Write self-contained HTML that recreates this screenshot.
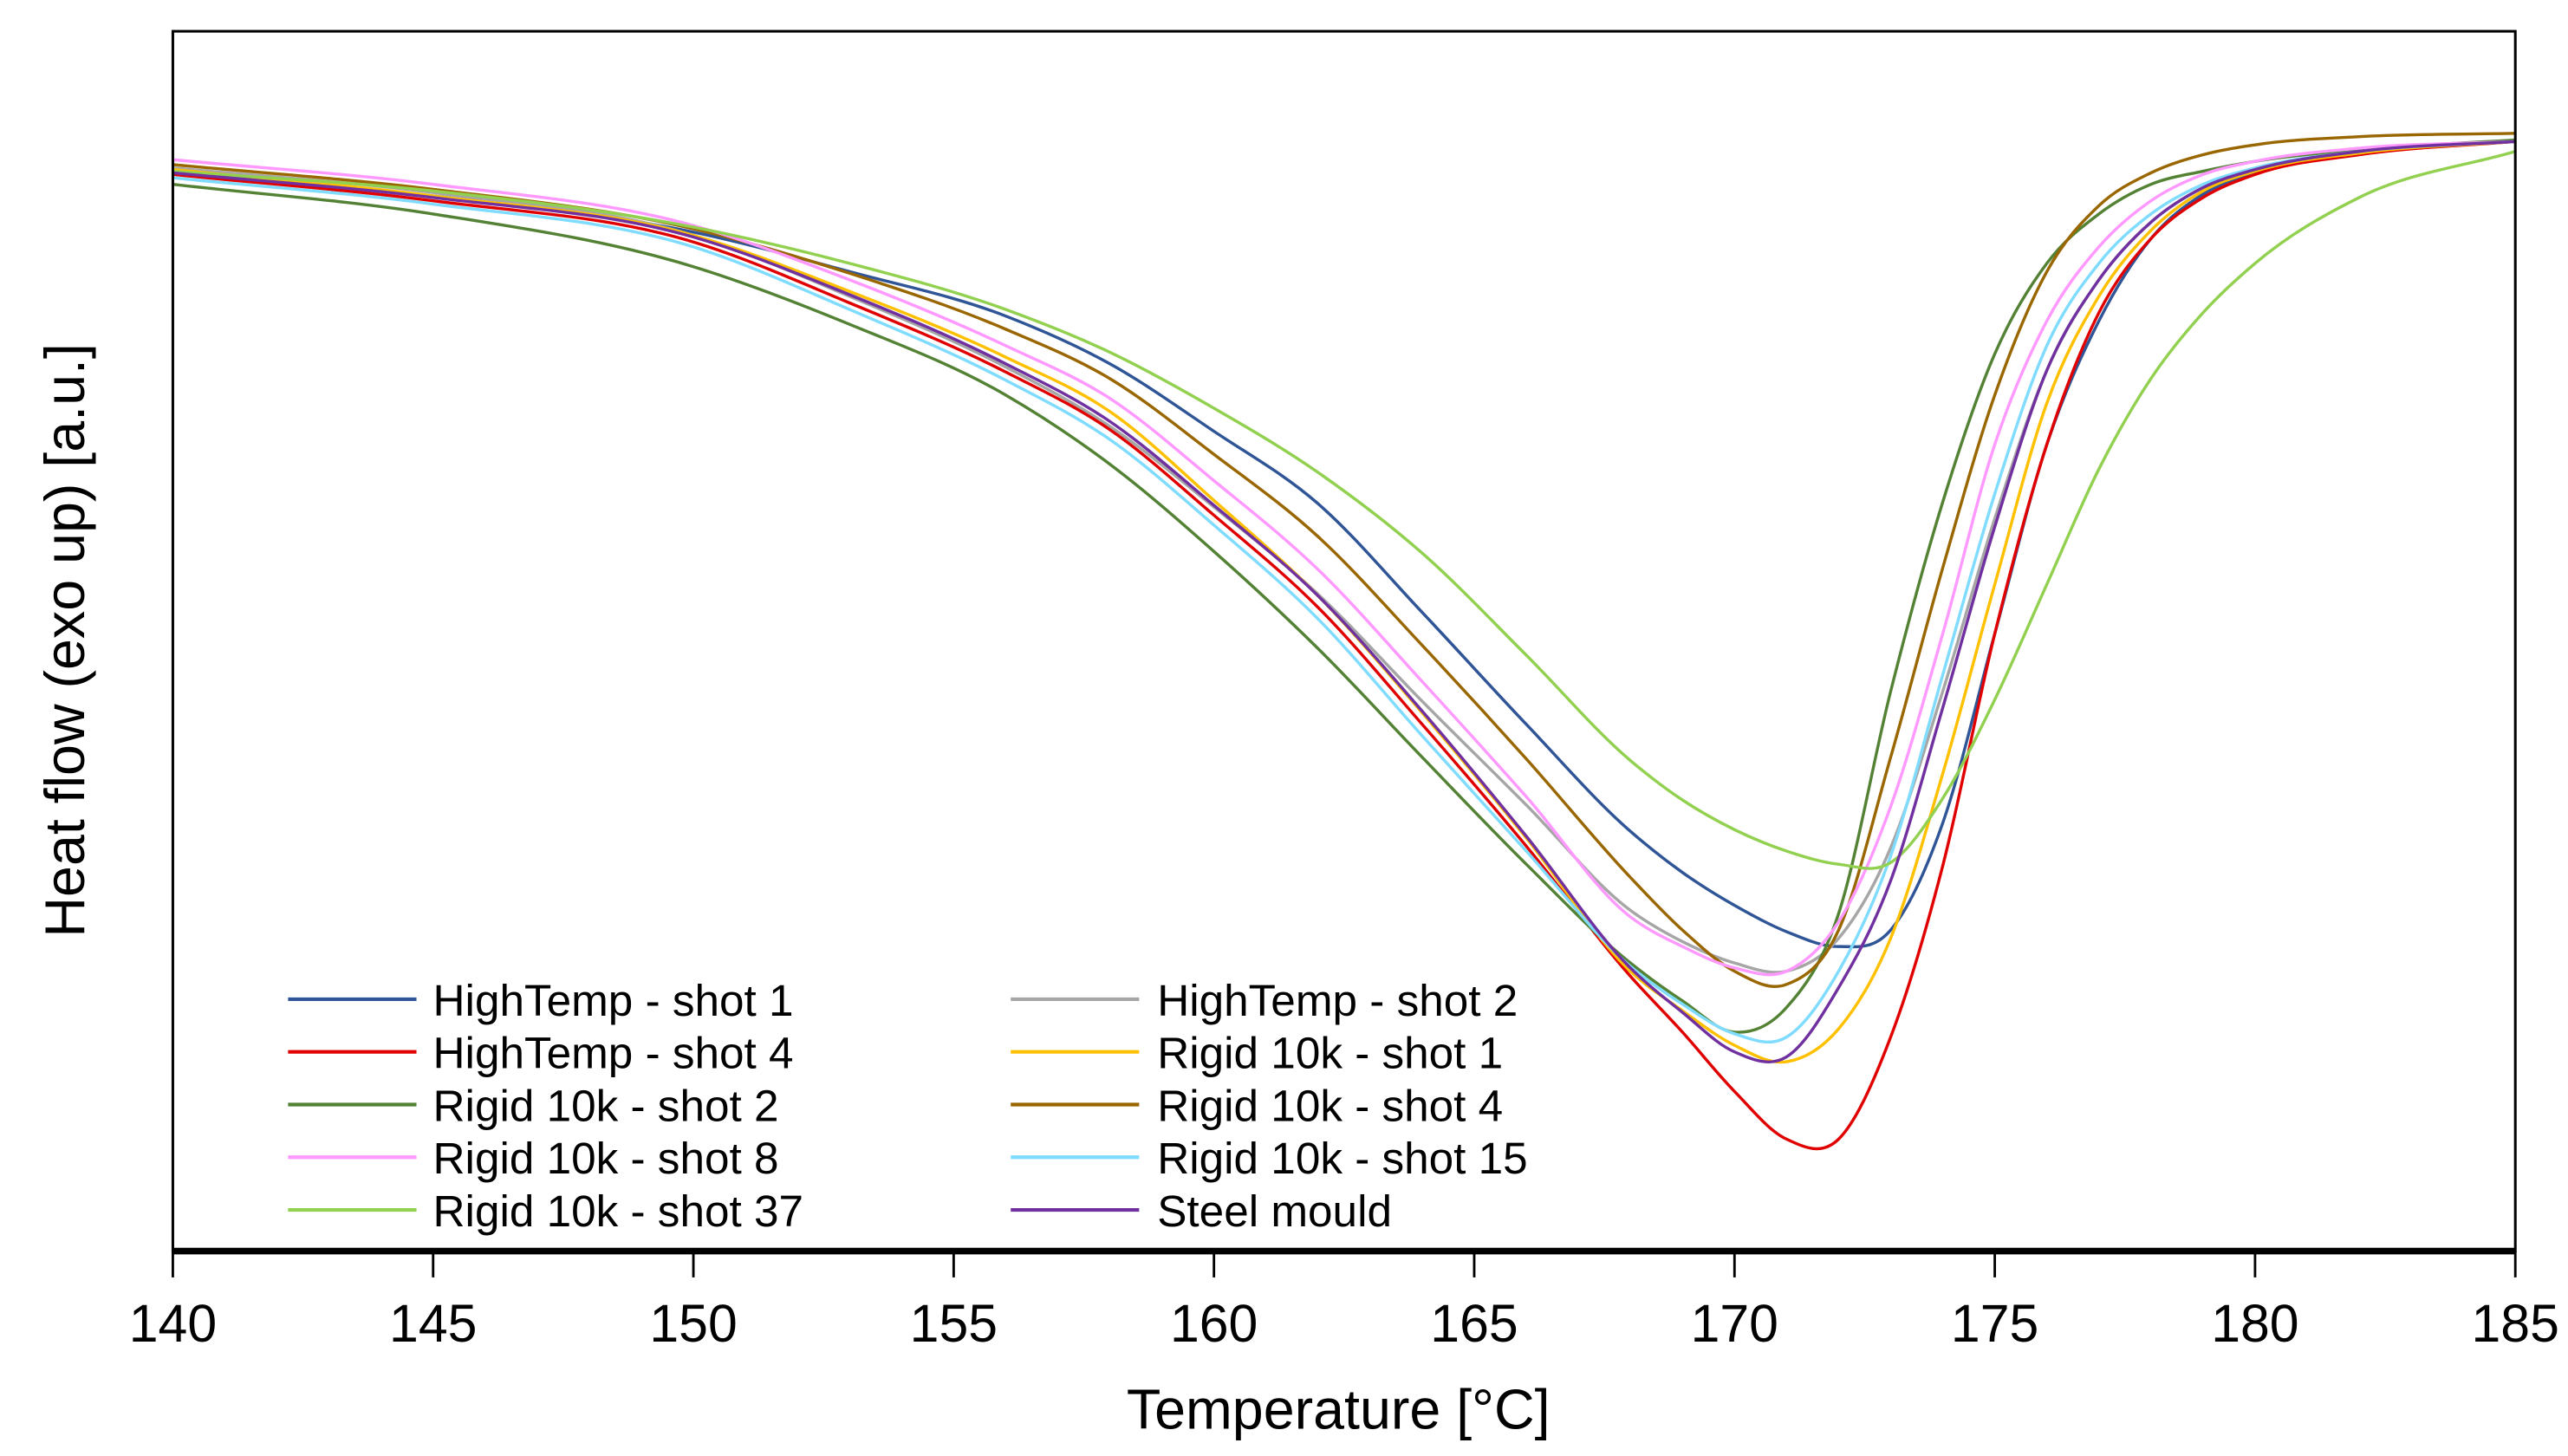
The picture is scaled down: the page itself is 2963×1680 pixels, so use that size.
<!DOCTYPE html>
<html><head><meta charset="utf-8"><style>
html,body{margin:0;padding:0;background:#fff;}
svg{display:block;}
text{font-family:"Liberation Sans",Arial,sans-serif;fill:#000;}
</style></head>
<body>
<svg id="chart" xmlns="http://www.w3.org/2000/svg" width="2963" height="1680" viewBox="0 0 1560 884.5" preserveAspectRatio="none">
<g id="plot"></g>
<g id="axes"></g>
<g id="legend"></g>
</svg>
<script>
const temps = [140,145,150,153,156,158,160,162,164,166,168,169,170,171,172,173,174,175,176,177,178,179,180,182,185];
const xTicks = [140,145,150,155,160,165,170,175,180,185];
const xTickLabels = ["140","145","150","155","160","165","170","175","180","185"];
const seriesNames = ["HighTemp - shot 1","HighTemp - shot 2","HighTemp - shot 4","Rigid 10k - shot 1","Rigid 10k - shot 2","Rigid 10k - shot 4","Rigid 10k - shot 8","Rigid 10k - shot 15","Rigid 10k - shot 37","Steel mould"];
const seriesColors = ["#2f5597","#a6a6a6","#e00000","#ffc000","#548235","#996600","#ff99ff","#7fdcff","#92d050","#7030a0"];
const hiTemp1 = [-10.4,-11.9,-14.1,-16.5,-19.2,-22.1,-26.2,-30.6,-37.2,-44.0,-50.5,-53.0,-55.0,-56.6,-57.5,-56.5,-50.0,-38.5,-27.0,-19.5,-14.5,-11.8,-10.5,-9.3,-8.6];
const hiTemp2 = [-10.2,-11.7,-14.3,-18.0,-22.3,-25.9,-30.8,-36.1,-42.6,-48.9,-55.3,-57.2,-58.5,-59.0,-57.0,-51.5,-42.0,-31.5,-22.5,-17.0,-13.5,-11.4,-10.3,-9.2,-8.6];
const hiTemp4 = [-10.6,-12.2,-14.7,-18.4,-22.6,-26.1,-31.3,-36.9,-44.0,-51.4,-59.3,-62.7,-66.3,-69.2,-69.2,-63.0,-52.6,-38.5,-27.0,-19.0,-14.5,-12.0,-10.6,-9.4,-8.6];
const rigid1 = [-10.3,-11.9,-14.3,-17.7,-21.7,-25.0,-30.4,-36.2,-43.3,-50.9,-59.0,-61.4,-63.5,-64.5,-62.5,-57.0,-47.0,-35.5,-24.5,-18.0,-14.0,-11.6,-10.4,-9.3,-8.6];
const rigid2 = [-11.2,-13.0,-16.2,-19.7,-24.0,-28.2,-33.5,-39.4,-46.0,-52.5,-58.5,-60.8,-62.7,-61.2,-55.5,-42.0,-30.5,-21.5,-16.0,-13.0,-11.2,-10.4,-9.8,-9.1,-8.5];
const rigid4 = [-10.0,-11.5,-13.9,-16.6,-20.0,-23.0,-27.6,-32.6,-39.2,-46.1,-53.3,-56.5,-59.0,-59.8,-56.5,-46.0,-34.5,-24.0,-16.5,-12.5,-10.5,-9.4,-8.8,-8.3,-8.1];
const rigid8 = [-9.7,-11.2,-13.7,-17.0,-21.0,-24.2,-29.2,-34.6,-41.4,-48.4,-55.7,-57.5,-58.8,-59.0,-56.0,-49.0,-38.5,-27.0,-19.5,-15.0,-12.2,-10.6,-9.8,-9.0,-8.6];
const rigid15 = [-10.8,-12.4,-15.0,-18.8,-23.1,-26.7,-31.9,-37.6,-44.7,-51.7,-58.7,-61.0,-62.8,-63.0,-59.0,-52.0,-41.0,-30.0,-21.0,-16.0,-13.0,-11.2,-10.2,-9.2,-8.6];
const rigid37 = [-10.4,-11.6,-13.8,-16.0,-18.8,-21.4,-24.8,-28.7,-33.6,-39.8,-46.2,-48.6,-50.4,-51.7,-52.5,-52.4,-48.5,-42.5,-35.5,-28.5,-23.0,-19.0,-16.0,-12.0,-9.2];
const steel = [-10.5,-12.0,-14.4,-17.9,-22.1,-25.6,-30.7,-36.2,-43.2,-50.8,-58.8,-61.5,-63.9,-64.2,-60.0,-53.5,-43.0,-32.0,-22.5,-17.0,-13.5,-11.4,-10.3,-9.2,-8.6];
const seriesValues = [hiTemp1,hiTemp2,hiTemp4,rigid1,rigid2,rigid4,rigid8,rigid15,rigid37,steel];
const seriesIds = ["hightemp-shot-1","hightemp-shot-2","hightemp-shot-4","rigid-10k-shot-1","rigid-10k-shot-2","rigid-10k-shot-4","rigid-10k-shot-8","rigid-10k-shot-15","rigid-10k-shot-37","steel-mould"];

const X0=105, X1=1528, Y0=19, Y1=760;
const xMin=140, xMax=185, yMin=-76, yMax=-1.9;
function xs(t){return X0+(t-xMin)/(xMax-xMin)*(X1-X0);}
function ys(v){return Y1-(v-yMin)/(yMax-yMin)*(Y1-Y0);}
const NS="http://www.w3.org/2000/svg";
function mk(tag,parent){const e=document.createElementNS(NS,tag);parent.appendChild(e);return e;}

function smoothPath(pts){
  const n=pts.length,m=new Array(n);
  m[0]=(pts[1][1]-pts[0][1])/(pts[1][0]-pts[0][0]);
  m[n-1]=(pts[n-1][1]-pts[n-2][1])/(pts[n-1][0]-pts[n-2][0]);
  for(let i=1;i<n-1;i++){
    const h0=pts[i][0]-pts[i-1][0],h1=pts[i+1][0]-pts[i][0];
    const s0=(pts[i][1]-pts[i-1][1])/h0,s1=(pts[i+1][1]-pts[i][1])/h1;
    m[i]=(s0*h1+s1*h0)/(h0+h1);
  }
  let d="M"+pts[0][0].toFixed(2)+","+pts[0][1].toFixed(2);
  for(let i=0;i<n-1;i++){
    const dx=(pts[i+1][0]-pts[i][0])/3;
    d+=" C"+(pts[i][0]+dx).toFixed(2)+","+(pts[i][1]+m[i]*dx).toFixed(2)+" "+(pts[i+1][0]-dx).toFixed(2)+","+(pts[i+1][1]-m[i+1]*dx).toFixed(2)+" "+pts[i+1][0].toFixed(2)+","+pts[i+1][1].toFixed(2);
  }
  return d;
}

const plot=document.getElementById('plot');
const axes=document.getElementById('axes');
const legend=document.getElementById('legend');

seriesValues.forEach((vals,si)=>{
  const pts=vals.map((v,i)=>[xs(temps[i]),ys(v)]);
  const path=mk('path',plot);
  path.setAttribute('d',smoothPath(pts));
  path.setAttribute('fill','none');
  path.setAttribute('stroke',seriesColors[si]);
  path.setAttribute('stroke-width','1.8');
  
  
});

const frame=mk('rect',axes);
frame.setAttribute('x',X0);frame.setAttribute('y',Y0);
frame.setAttribute('width',X1-X0);frame.setAttribute('height',Y1-Y0);
frame.setAttribute('fill','none');frame.setAttribute('stroke','#000');frame.setAttribute('stroke-width','1.6');



const xAxis=mk('line',axes);
xAxis.setAttribute('x1',X0);xAxis.setAttribute('x2',X1);xAxis.setAttribute('y1',Y1);xAxis.setAttribute('y2',Y1);
xAxis.setAttribute('stroke','#000');xAxis.setAttribute('stroke-width','4');



xTicks.forEach((t,i)=>{
  const tk=mk('line',axes);
  tk.setAttribute('x1',xs(t));tk.setAttribute('x2',xs(t));tk.setAttribute('y1',Y1);tk.setAttribute('y2',Y1+16);
  tk.setAttribute('stroke','#000');tk.setAttribute('stroke-width','1.5');
  
  
  const lb=mk('text',axes);
  lb.setAttribute('x',xs(t));lb.setAttribute('y',815);
  lb.setAttribute('text-anchor','middle');lb.setAttribute('font-size','32');
  lb.textContent=xTickLabels[i];
  
  
});

const xt=mk('text',axes);
xt.setAttribute('x',813);xt.setAttribute('y',868);xt.setAttribute('text-anchor','middle');xt.setAttribute('font-size','34');
xt.textContent="Temperature [°C]";



const yt=mk('text',axes);
yt.setAttribute('transform','translate(51,389) rotate(-90)');
yt.setAttribute('text-anchor','middle');yt.setAttribute('font-size','34');
yt.textContent="Heat flow (exo up) [a.u.]";



const legRows=[607,639,671,703,735];
seriesNames.forEach((n,i)=>{
  const col=i%2,row=Math.floor(i/2);
  const lx=col===0?175:614, tx=col===0?263:703, y=legRows[row];
  const g=mk('g',legend);
  
  
  const ln=mk('line',g);
  ln.setAttribute('x1',lx);ln.setAttribute('x2',lx+78);ln.setAttribute('y1',y);ln.setAttribute('y2',y);
  ln.setAttribute('stroke',seriesColors[i]);ln.setAttribute('stroke-width','2.2');
  
  
  const tt=mk('text',g);
  tt.setAttribute('x',tx);tt.setAttribute('y',y+10);tt.setAttribute('font-size','27');
  tt.textContent=n;
  
  
});
</script>
</body></html>
